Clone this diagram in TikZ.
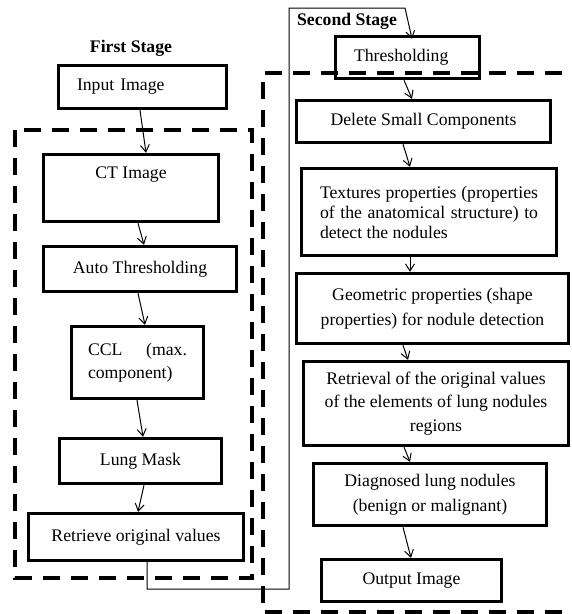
\documentclass[tikz,border=0pt]{standalone}
\usepackage{fontspec}
\setmainfont{Liberation Serif}
\usetikzlibrary{arrows.meta}
\newcommand{\fsz}{\fontsize{17.7pt}{23pt}\selectfont}
\tikzset{
  box/.style={draw, line width=3.4pt, inner sep=0pt, font=\fsz, align=center},
  padbox/.style={box, align=left, inner xsep=18.5pt},
  head/.style={font=\fsz\bfseries, inner sep=0pt},
  arr/.style={line width=1pt, -{Straight Barb[length=7pt,width=9pt]}},
  stagebox/.style={line width=3.6pt, dash pattern=on 17pt off 11pt}
}
\begin{document}
\begin{tikzpicture}[x=1pt,y=-1pt]
\path[use as bounding box, clip] (0,0) rectangle (572,614);

% dashed stage frames
\draw[stagebox] (15,130) rectangle (252,578);
\draw[stagebox] (590,73) -- (263,73) -- (263,612) -- (590,612);

% headings
\node[head] (h1) at (131,48) {First Stage};
\node[head] (h2) at (347,21) {Second Stage};

% first stage
\node[padbox, minimum height=43pt, text width=131pt] (inp) at (142.5,87) {Input Image};
\node[box, minimum width=175pt, minimum height=67pt] (ct) at (131,188) {CT Image\\\strut};
\node[box, minimum width=193pt, minimum height=45pt] (auto) at (140,269) {Auto Thresholding};
\node[box, align=left, inner xsep=16.5pt, text width=99pt, minimum height=72pt] (ccl) at (137.5,362.5) {CCL\hfill(max.\\component)};
\node[box, minimum width=162pt, minimum height=45pt] (lung) at (140.5,461) {Lung Mask};
\node[box, minimum width=215pt, minimum height=47pt] (rov) at (136,537) {Retrieve original values};

% second stage
\node[padbox, minimum height=42pt, text width=107pt] (thr) at (407.5,57.5) {Thresholding};
\node[box, minimum width=254pt, minimum height=42pt] (del) at (423.5,121.5) {Delete Small Components};
\node[box, align=justify, inner xsep=18.5pt, text width=218pt, minimum height=87pt, font=\fontsize{17.7pt}{20pt}\selectfont] (tex) at (429,212)
  {Textures properties (properties\linebreak of the anatomical structure) to\linebreak detect the nodules};
\node[box, minimum width=272pt, minimum height=70pt, font=\fontsize{17.7pt}{25pt}\selectfont] (geo) at (432.5,308.5) {Geometric properties (shape\\properties) for nodule detection};
\node[box, minimum width=265pt, minimum height=84pt, font=\fontsize{17.7pt}{23.5pt}\selectfont] (ret) at (436,403.5) {Retrieval of the original values\\of the elements of lung nodules\\regions};
\node[box, minimum width=233pt, minimum height=62pt, font=\fontsize{17.7pt}{25pt}\selectfont] (dia) at (430,494.5) {Diagnosed lung nodules\\(benign or malignant)};
\node[box, minimum width=180pt, minimum height=42pt] (out) at (411.5,580.5) {Output Image};

% arrows first stage
\draw[arr] ([xshift=-2.5pt]inp.south) -- ([xshift=15pt]ct.north);
\draw[arr] ([xshift=7pt]ct.south) -- ([xshift=4pt]auto.north);
\draw[arr] ([xshift=-2pt]auto.south) -- ([xshift=7.5pt]ccl.north);
\draw[arr] ([xshift=-0.5pt]ccl.south) -- ([xshift=2.5pt]lung.north);
\draw[arr] ([xshift=3.5pt]lung.south) -- ([xshift=2pt]rov.north);

% link between stages
\coordinate (lb) at (289,589);
\coordinate (lt) at (405,8);
\draw[arr] ([xshift=11pt]rov.south) |- (lb) |- (lt) -- ([xshift=4.5pt,yshift=-4pt]thr.north);

% arrows second stage
\draw[arr] ([xshift=-3.5pt]thr.south) -- ([xshift=-11.5pt]del.north);
\draw[arr] ([xshift=-20.5pt]del.south) -- ([xshift=-19pt]tex.north);
\draw[arr] ([xshift=-19pt]tex.south) -- ([xshift=-22.5pt]geo.north);
\draw[arr] ([xshift=-29.5pt]geo.south) -- ([xshift=-28pt]ret.north);
\draw[arr] ([xshift=-32pt]ret.south) -- ([xshift=-20pt]dia.north);
\draw[arr] ([xshift=-27pt]dia.south) -- ([xshift=-0.5pt]out.north);
\end{tikzpicture}
\end{document}
